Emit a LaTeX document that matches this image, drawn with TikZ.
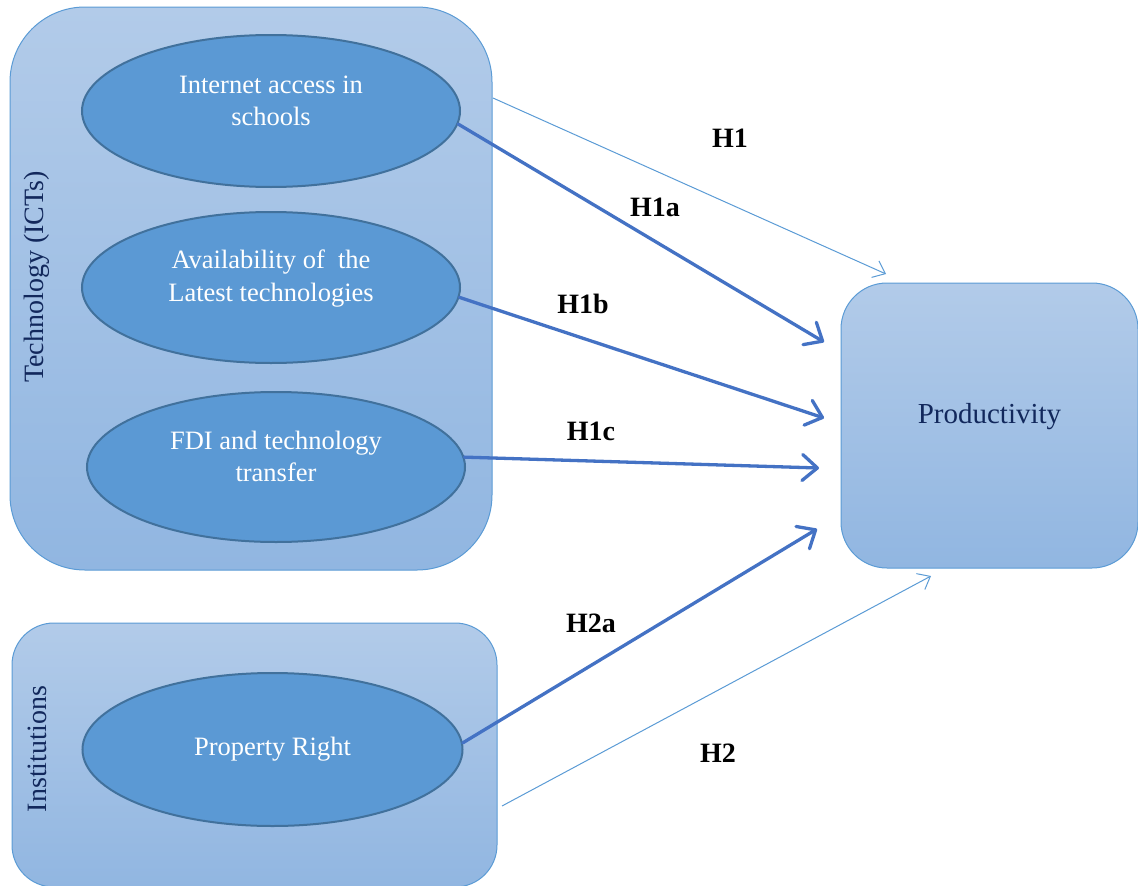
\documentclass[tikz,border=0pt]{standalone}
\usepackage{fontspec}
\setmainfont{Liberation Serif}
\usetikzlibrary{arrows.meta,shapes.geometric,calc}

\definecolor{boxtop}{RGB}{178,203,233}
\definecolor{boxbot}{RGB}{145,182,225}
\definecolor{boxline}{RGB}{91,155,213}
\definecolor{ellfill}{RGB}{91,153,212}
\definecolor{ellline}{RGB}{65,113,156}
\definecolor{thickblue}{RGB}{68,114,196}
\definecolor{thinblue}{RGB}{91,155,213}
\definecolor{navy}{RGB}{18,40,92}

\tikzset{
  groupbox/.style={draw=boxline, line width=1pt, top color=boxtop, bottom color=boxbot,
    minimum width=#1, inner sep=0pt},
  factor/.style={ellipse, draw=ellline, line width=2pt, fill=ellfill, inner sep=0pt},
  factortext/.style={text=white, align=center, font=\fontsize{26.5}{32.5}\selectfont},
  grouptitle/.style={text=navy, rotate=90, font=\fontsize{28}{32}\selectfont},
  hyp/.style={font=\bfseries\fontsize{28}{32}\selectfont, text=black},
  thickarrow/.style={draw=thickblue, line width=3.3pt, line cap=round,
    -{Straight Barb[length=15pt,width=26pt,round]}},
  thinarrow/.style={draw=thinblue, line width=1pt,
    -{Straight Barb[length=11pt,width=18pt]}}
}

\begin{document}
\begin{tikzpicture}[x=1pt,y=-1pt]
\useasboundingbox (0,0) rectangle (1138,886);

% grouping boxes
\node[groupbox=482pt, minimum height=563pt, rounded corners=75pt] (tech) at (251,288.5) {};
\node[groupbox=485pt, minimum height=264pt, rounded corners=42pt] (inst) at (254.5,755) {};
\node[groupbox=297pt, minimum height=285pt, rounded corners=46pt] (prod) at (989.5,425.5) {};

% titles
\node[grouptitle] (techtitle) at (37,277) {Technology (ICTs)};
\node[grouptitle] (insttitle) at (37,749) {Institutions};
\node[text=navy, font=\fontsize{29}{33}\selectfont] (prodtitle) at (989.5,417) {Productivity};

% factors
\node[factor, minimum width=378pt, minimum height=152pt] (e1) at (271,111) {};
\node[factor, minimum width=378pt, minimum height=151pt] (e2) at (271,287.5) {};
\node[factor, minimum width=378pt, minimum height=150pt] (e3) at (276,467) {};
\node[factor, minimum width=380pt, minimum height=153pt] (e4) at (272.5,749.5) {};

\node[factortext] (e1t) at (271,101) {Internet access in\\schools};
\node[factortext] (e2t) at (271,278.5) {Availability of\ \ the\\Latest technologies};
\node[factortext] (e3t) at (276,456.5) {FDI and technology\\transfer};
\node[factortext] (e4t) at (272.5,749) {Property Right};

% arrow ends
\coordinate (h1s) at (493,98);
\coordinate (h1e) at (886,274);
\coordinate (h1ae) at (824,342);
\coordinate (h1be) at (824,418);
\coordinate (h1ce) at (819,468);
\coordinate (h2ae) at (817,529);
\coordinate (h2s) at (502,806);
\coordinate (h2e) at (931,576);

% hypotheses
\draw[thinarrow] (h1s) -- (h1e);
\draw[thickarrow] (e1.-4) -- (h1ae);
\draw[thickarrow] (e2.-3) -- (h1be);
\draw[thickarrow] (e3.3) -- (h1ce);
\draw[thickarrow] (e4.2) -- (h2ae);
\draw[thinarrow] (h2s) -- (h2e);

\node[hyp] (l1) at (730,138) {H1};
\node[hyp] (l1a) at (655,207) {H1a};
\node[hyp] (l1b) at (583,304) {H1b};
\node[hyp] (l1c) at (591,431) {H1c};
\node[hyp] (l2a) at (591,623) {H2a};
\node[hyp] (l2) at (718,753) {H2};
\end{tikzpicture}
\end{document}
